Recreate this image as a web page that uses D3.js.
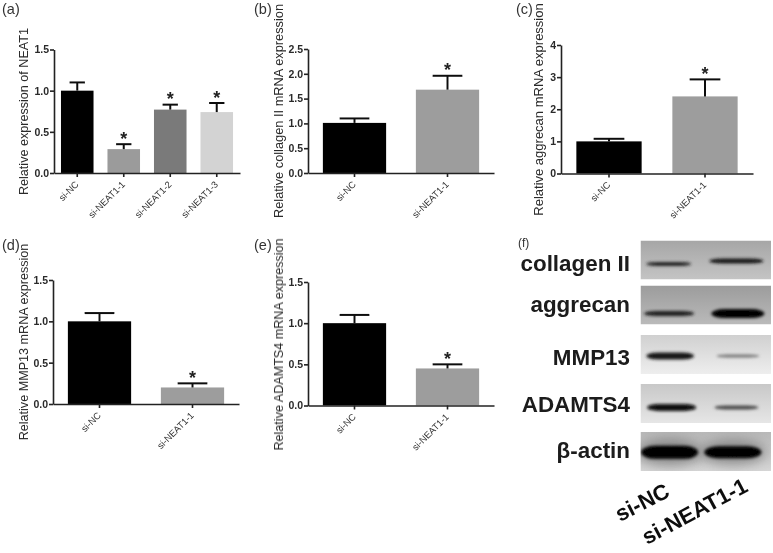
<!DOCTYPE html>
<html>
<head>
<meta charset="utf-8">
<style>
	html, body { margin: 0; padding: 0; background: #fff; }
	svg { display: block; font-family: "Liberation Sans", Arial, sans-serif; }
	.soft { filter: url(#soft); }
	.axis path, .axis line { stroke: #222; stroke-width: 1.6; }
	.axis--y text { font-size: 10.5px; font-weight: bold; fill: #2a2a2a; }
	.axis--x text { font-size: 9.3px; fill: #333; }
</style>
</head>
<body>
<svg id="fig" width="773" height="553"></svg>
<script src="https://cdn.jsdelivr.net/npm/d3@7"></script>
<script>
// values
var groupsA = ['si-NC', 'si-NEAT1-1', 'si-NEAT1-2', 'si-NEAT1-3'];
var groupsTwo = ['si-NC', 'si-NEAT1-1'];

var valuesA = [1.0, 0.29, 0.77, 0.74];
var errorsA = [1.10, 0.35, 0.83, 0.85];
var starsA = [false, true, true, true];

var valuesB = [1.01, 1.68];
var errorsB = [1.10, 1.96];

var valuesC = [1.0, 2.4];
var errorsC = [1.08, 2.93];

var valuesD = [1.0, 0.2];
var errorsD = [1.10, 0.25];

var valuesE = [1.0, 0.45];
var errorsE = [1.10, 0.50];

var starsTwo = [false, true];

var ticksHalf = [0, 0.5, 1, 1.5];
var ticksB = [0, 0.5, 1, 1.5, 2, 2.5];
var ticksC = [0, 1, 2, 3, 4];

var greysA = ['#000', '#9b9b9b', '#7a7a7a', '#d3d3d3'];
var greysTwo = ['#000', '#9d9d9d'];

var blotProteins = ['collagen II', 'aggrecan', 'MMP13', 'ADAMTS4', 'β-actin'];
var blotLanes = ['si-NC', 'si-NEAT1-1'];
// band darkness per protein, lanes in order (0 none, 1 saturated)
var bandDarkness = [[0.72, 0.85], [0.75, 0.97], [0.85, 0.28], [0.95, 0.55], [1, 1]];
var backgroundTone = [172, 162, 214, 206, 190];

var svg = d3.select('#fig');

var defs = svg.append('defs');
defs.append('filter').attr('id', 'soft')
	.append('feGaussianBlur').attr('stdDeviation', 0.35);
defs.append('filter').attr('id', 'bandBlur')
	.attr('x', '-30%').attr('y', '-150%').attr('width', '160%').attr('height', '400%')
	.append('feGaussianBlur').attr('stdDeviation', 1.5);
defs.append('filter').attr('id', 'haloBlur')
	.attr('x', '-30%').attr('y', '-100%').attr('width', '160%').attr('height', '300%')
	.append('feGaussianBlur').attr('stdDeviation', 6);

var root = svg.append('g').attr('class', 'soft');

function barPanel(p, groups, values, errors, stars, fills, ticks, tickFormat, title) {
	var g = root.append('g');

	var x = d3.scaleBand().domain(groups).range([p.left, p.right]).paddingInner(p.gap).paddingOuter(p.gap / 2);
	var y = d3.scaleLinear().domain([0, ticks[ticks.length - 1]]).range([p.bottom, p.top]);

	g.selectAll('.bar').data(groups).enter().append('rect')
		.attr('class', 'bar')
		.attr('x', function(d) { return x(d); })
		.attr('y', function(d, i) { return y(values[i]); })
		.attr('width', x.bandwidth())
		.attr('height', function(d, i) { return y(0) - y(values[i]); })
		.attr('fill', function(d, i) { return fills[i]; });

	var cap = x.bandwidth() * 0.47;

	g.selectAll('.stem').data(groups).enter().append('line')
		.attr('class', 'stem')
		.attr('x1', function(d) { return x(d) + x.bandwidth() / 2; })
		.attr('x2', function(d) { return x(d) + x.bandwidth() / 2; })
		.attr('y1', function(d, i) { return y(values[i]); })
		.attr('y2', function(d, i) { return y(errors[i]); })
		.attr('stroke', '#111').attr('stroke-width', 2);

	g.selectAll('.cap').data(groups).enter().append('line')
		.attr('class', 'cap')
		.attr('x1', function(d) { return x(d) + x.bandwidth() / 2 - cap / 2; })
		.attr('x2', function(d) { return x(d) + x.bandwidth() / 2 + cap / 2; })
		.attr('y1', function(d, i) { return y(errors[i]); })
		.attr('y2', function(d, i) { return y(errors[i]); })
		.attr('stroke', '#111').attr('stroke-width', 2);

	g.selectAll('.star').data(groups.filter(function(d, i) { return stars[i]; })).enter().append('text')
		.attr('class', 'star')
		.attr('x', function(d) { return x(d) + x.bandwidth() / 2; })
		.attr('y', function(d) { return y(errors[groups.indexOf(d)]) + 0.5; })
		.attr('text-anchor', 'middle')
		.attr('font-size', 18)
		.attr('font-weight', 'bold')
		.attr('fill', '#222')
		.text('*');

	g.append('g')
		.attr('class', 'axis axis--y')
		.attr('transform', 'translate(' + p.left + ',0)')
		.call(d3.axisLeft(y).tickValues(ticks).tickFormat(d3.format(tickFormat)).tickSize(4).tickSizeOuter(0).tickPadding(1));

	var xAxis = g.append('g')
		.attr('class', 'axis axis--x')
		.attr('transform', 'translate(0,' + p.bottom + ')')
		.call(d3.axisBottom(x).tickSize(4).tickSizeOuter(0).tickPadding(2));

	xAxis.selectAll('text')
		.attr('text-anchor', 'end')
		.attr('dy', 0)
		.attr('transform', 'translate(2,12) rotate(-45)')
		.attr('y', 0);

	g.append('text')
		.attr('transform', 'translate(' + p.titleX + ',' + p.titleY + ') rotate(-90)')
		.attr('text-anchor', 'middle')
		.attr('font-size', p.titleSize)
		.attr('fill', '#2a2a2a')
		.text(title);

	root.append('text')
		.attr('x', p.labelX).attr('y', p.labelY)
		.attr('font-size', 14.5).attr('fill', '#333')
		.text(p.label);
}

barPanel({ label: '(a)', labelX: 2, labelY: 13.5, left: 54, right: 240, top: 49.5, bottom: 173, gap: 0.3, titleX: 28, titleY: 111.5, titleSize: 12.6 },
	groupsA, valuesA, errorsA, starsA, greysA, ticksHalf, '.1f', 'Relative expression of NEAT1');

barPanel({ label: '(b)', labelX: 254, labelY: 13.5, left: 308, right: 494, top: 49, bottom: 173, gap: 0.32, titleX: 283, titleY: 111, titleSize: 12.8 },
	groupsTwo, valuesB, errorsB, starsTwo, greysTwo, ticksB, '.1f', 'Relative collagen II mRNA expression');

barPanel({ label: '(c)', labelX: 516, labelY: 13.5, left: 561, right: 753, top: 45, bottom: 173.5, gap: 0.32, titleX: 543, titleY: 109.5, titleSize: 13 },
	groupsTwo, valuesC, errorsC, starsTwo, greysTwo, ticksC, 'd', 'Relative aggrecan mRNA expression');

barPanel({ label: '(d)', labelX: 2, labelY: 250, left: 53, right: 239, top: 280, bottom: 404, gap: 0.32, titleX: 28, titleY: 342, titleSize: 12.6 },
	groupsTwo, valuesD, errorsD, starsTwo, greysTwo, ticksHalf, '.1f', 'Relative MMP13 mRNA expression');

barPanel({ label: '(e)', labelX: 254, labelY: 250, left: 308, right: 494, top: 282, bottom: 405.5, gap: 0.32, titleX: 283, titleY: 344.5, titleSize: 12.6 },
	groupsTwo, valuesE, errorsE, starsTwo, greysTwo, ticksHalf, '.1f', 'Relative ADAMTS4 mRNA expression');

function drawBlot() {
	var g = root.append('g');
	var rows = d3.scaleBand().domain(blotProteins).range([236.5, 476]).paddingInner(0.19).paddingOuter(0.095);
	var lanes = d3.scaleBand().domain(blotLanes).range([640.5, 771]);
	var grey = d3.scaleLinear().domain([0, 1]).range([1, 0]);
	var rowHeight = 39;

	// the strips are not evenly pasted, so each row gets its own nudge
	var rowNudge = rows.domain().map(function(name, i) { return [240.5, 285.5, 335, 384, 432][i] - rows(name); });
	var labelDrop = [30, 26.5, 30, 27.7, 26];
	var bandCentre = [0.6, 0.72, 0.54, 0.6, 0.52];
	var bandWidth = [[45, 54], [50, 53], [48, 43], [49, 44], [57, 57]];
	var bandHeight = [[4, 5], [5, 9], [7, 3], [7, 4], [13, 12]];
	var laneShift = [[-4.5, -2], [-4, -0.5], [-3, -0.5], [-1.5, -2], [-3.5, -5.5]];
	var laneTilt = [[0, -3], [0, 0], [0, 0], [0, 0], [0, 0]];

	g.append('text')
		.attr('x', 518).attr('y', 247)
		.attr('font-size', 12).attr('fill', '#333')
		.text('(f)');

	blotProteins.forEach(function(name, r) {
		var top = rows(name) + rowNudge[r];
		var tone = backgroundTone[r];
		var row = g.append('g');

		var gradId = 'rowGrad' + r;
		var grad = defs.append('linearGradient').attr('id', gradId).attr('x1', 0).attr('x2', 0).attr('y1', 0).attr('y2', 1);
		grad.append('stop').attr('offset', '0%').attr('stop-color', d3.rgb(tone - 6, tone - 6, tone - 6));
		grad.append('stop').attr('offset', '100%').attr('stop-color', d3.rgb(tone + 24, tone + 24, tone + 24));

		var clipId = 'rowClip' + r;
		defs.append('clipPath').attr('id', clipId).append('rect')
			.attr('x', lanes.range()[0]).attr('y', top).attr('width', lanes.range()[1] - lanes.range()[0]).attr('height', rowHeight);

		row.attr('clip-path', 'url(#' + clipId + ')');

		row.append('rect')
			.attr('x', lanes.range()[0]).attr('y', top)
			.attr('width', lanes.range()[1] - lanes.range()[0])
			.attr('height', rowHeight)
			.attr('fill', 'url(#' + gradId + ')');

		blotLanes.forEach(function(lane, c) {
			var k = bandDarkness[r][c];
			var cx = lanes(lane) + lanes.bandwidth() / 2 + laneShift[r][c];
			var cy = top + rowHeight * bandCentre[r] + laneTilt[r][c];
			if (k > 0.98) {
				row.append('ellipse')
					.attr('cx', cx).attr('cy', cy)
					.attr('rx', bandWidth[r][c] / 2 + 4).attr('ry', bandHeight[r][c])
					.attr('fill', '#555').attr('opacity', 0.55)
					.attr('filter', 'url(#haloBlur)');
			}
			var v = Math.round(grey(k) * tone * 0.75);
			row.append('rect')
				.attr('x', cx - bandWidth[r][c] / 2)
				.attr('y', cy - bandHeight[r][c] / 2)
				.attr('width', bandWidth[r][c])
				.attr('height', bandHeight[r][c])
				.attr('rx', bandWidth[r][c] / 4)
				.attr('ry', bandHeight[r][c] / 2)
				.attr('fill', d3.rgb(v, v, v))
				.attr('filter', 'url(#bandBlur)');
		});

		g.append('text')
			.attr('x', 630).attr('y', top + labelDrop[r])
			.attr('text-anchor', 'end')
			.attr('font-size', 22.4).attr('font-weight', 'bold').attr('fill', '#1a1a1a')
			.text(name);
	});

	g.append('text')
		.attr('transform', 'translate(620,522) rotate(-27)')
		.attr('font-size', 22).attr('font-weight', 'bold').attr('fill', '#111')
		.text(blotLanes[0]);
	g.append('text')
		.attr('transform', 'translate(647,545) rotate(-28)')
		.attr('font-size', 22).attr('font-weight', 'bold').attr('fill', '#111')
		.text(blotLanes[1]);
}
drawBlot();
</script>
</body>
</html>
